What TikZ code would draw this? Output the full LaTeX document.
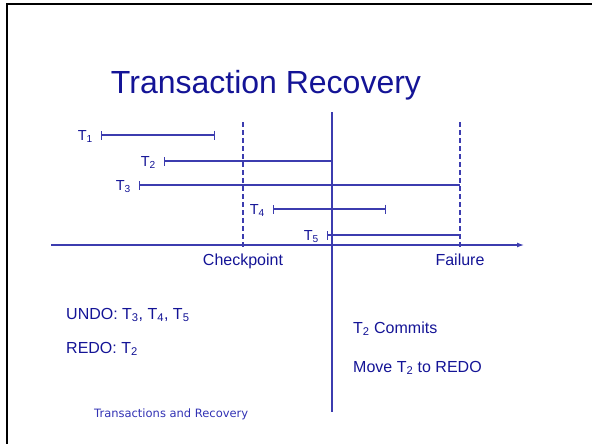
\documentclass[tikz,border=0pt]{standalone}
\usepackage{fontspec}
\setmainfont{Liberation Sans}
\newfontfamily\footfont{DejaVu Sans}
\usetikzlibrary{arrows.meta}
\definecolor{txtblue}{RGB}{20,20,150}
\definecolor{lnblue}{RGB}{60,60,175}
\definecolor{ftblue}{RGB}{50,50,180}
\tikzset{
  bar/.style={draw=lnblue, line width=1.2pt},
  barboth/.style={bar, {Bar[width=9pt,line width=1.2pt]}-{Bar[width=9pt,line width=1.2pt]}},
  barleft/.style={bar, {Bar[width=9pt,line width=1.2pt]}-},
  tlabel/.style={inner sep=0pt, anchor=base east, text=txtblue, font=\fontsize{14.5}{16}\selectfont},
  guide/.style={draw=lnblue, line width=1.2pt, dash pattern=on 5pt off 3pt},
  axislabel/.style={inner sep=0pt, anchor=base, text=txtblue, font=\fontsize{16}{18}\selectfont},
  bodytext/.style={inner sep=0pt, anchor=base west, text=txtblue, font=\fontsize{16}{18}\selectfont},
}
\begin{document}
\begin{tikzpicture}[x=1pt,y=-1pt]
\useasboundingbox (0,0) rectangle (592,444);
% frame
\coordinate (fbl) at (7,450);
\coordinate (ftl) at (7,4);
\coordinate (ftr) at (600,4);
\draw[line width=2.2pt, black] (fbl) -- (ftl) -- (ftr);
% title
\node[inner sep=0pt, anchor=base, text=txtblue, font=\fontsize{32}{36}\selectfont] (title) at (266,93) {Transaction Recovery};
% time axis
\coordinate (ax0) at (51,245);
\coordinate (ax1) at (524,245);
\draw[draw=lnblue, line width=1.3pt, -{Latex[length=7pt,width=5pt]}] (ax0) -- (ax1);
% checkpoint and failure
\coordinate (ck0) at (243,122);
\coordinate (ck1) at (243,248);
\coordinate (fl0) at (460,122);
\coordinate (fl1) at (460,248);
\draw[guide] (ck0) -- (ck1);
\draw[guide] (fl0) -- (fl1);
\node[axislabel] (cklab) at (243,265) {Checkpoint};
\node[axislabel] (fllab) at (460,265) {Failure};
% commit line
\coordinate (cm0) at (332,112);
\coordinate (cm1) at (332,412);
\draw[draw=lnblue, line width=1.8pt] (cm0) -- (cm1);
% transactions
\coordinate (s1) at (101,135); \coordinate (e1) at (215,135);
\coordinate (s2) at (164,161); \coordinate (e2) at (332,161);
\coordinate (s3) at (139,185); \coordinate (e3) at (460,185);
\coordinate (s4) at (273,209); \coordinate (e4) at (386,209);
\coordinate (s5) at (327,235); \coordinate (e5) at (460,235);
\draw[barboth] (s1) -- (e1);
\draw[barboth] (s2) -- (e2);
\draw[barleft] (s3) -- (e3);
\draw[barboth] (s4) -- (e4);
\draw[barleft] (s5) -- (e5);
\node[tlabel] (t1) at ([xshift=-8pt,yshift=-5pt]s1) {T\textsubscript{1}};
\node[tlabel] (t2) at ([xshift=-8pt,yshift=-5pt]s2) {T\textsubscript{2}};
\node[tlabel] (t3) at ([xshift=-8pt,yshift=-5pt]s3) {T\textsubscript{3}};
\node[tlabel] (t4) at ([xshift=-8pt,yshift=-5pt]s4) {T\textsubscript{4}};
\node[tlabel] (t5) at ([xshift=-8pt,yshift=-5pt]s5) {T\textsubscript{5}};
% bottom texts
\node[bodytext] (undo) at (66,319) {UNDO: T\textsubscript{3}, T\textsubscript{4}, T\textsubscript{5}};
\node[bodytext] (redo) at (66,353) {REDO: T\textsubscript{2}};
\node[bodytext] (commits) at (353,333) {T\textsubscript{2} Commits};
\node[bodytext] (move) at (353,372) {Move T\textsubscript{2} to REDO};
\node[inner sep=0pt, anchor=base west, text=ftblue, font=\footfont\fontsize{11.5}{13}\selectfont] (footer) at (94,417) {Transactions and Recovery};
\end{tikzpicture}
\end{document}
